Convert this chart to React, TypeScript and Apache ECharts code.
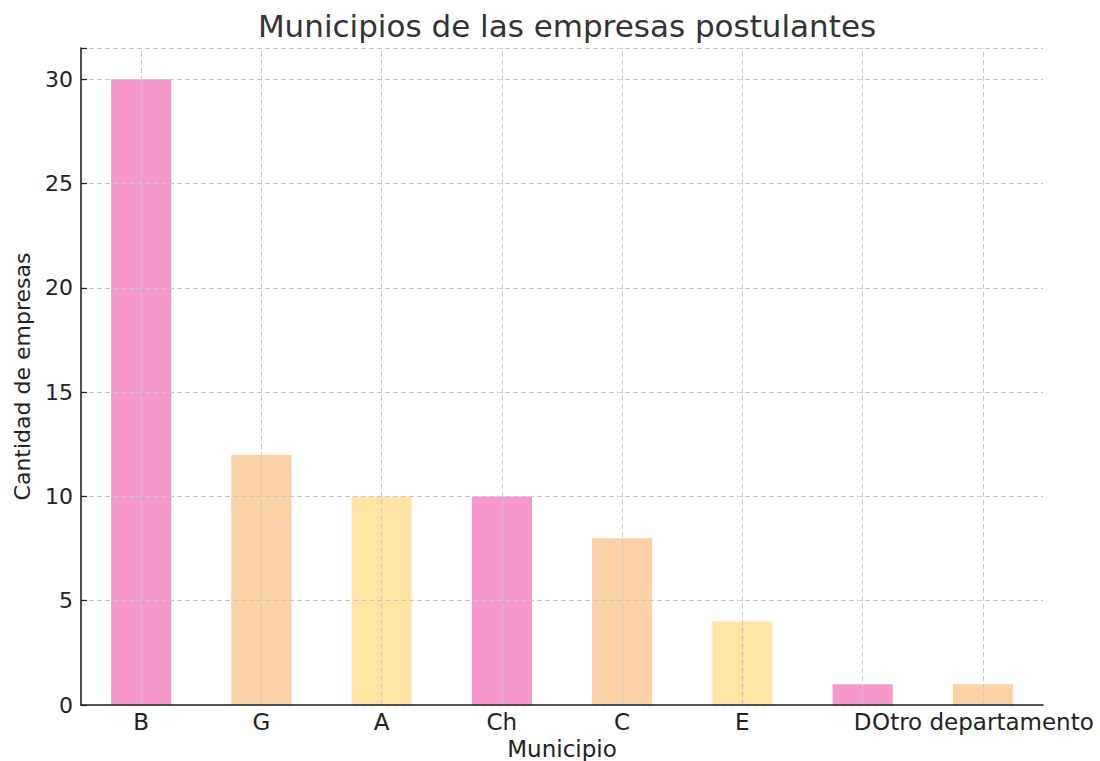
import React, { useEffect, useRef } from "react";
import * as echarts from "echarts";

const categories = ["B", "G", "A", "Ch", "C", "E", "D", "Otro departamento"];
const values = [30, 12, 10, 10, 8, 4, 1, 1];
const barColors = ["#F497CA", "#FAD2A6", "#FFE4A6", "#F497CA", "#FAD2A6", "#FFE4A6", "#F497CA", "#FAD2A6"];
const yTicks = [0, 5, 10, 15, 20, 25, 30];

export default function App() {
  const ref = useRef<HTMLDivElement>(null);
  useEffect(() => {
    const chart = echarts.init(ref.current!, null, { renderer: "svg" });
    const font = "DejaVu Sans";
    const gridLine = { color: "#c8c8c8", type: [5, 3] as number[], width: 1 };
    chart.setOption({
      animation: false,
      textStyle: { fontFamily: font },
      title: {
        text: "Municipios de las empresas postulantes",
        left: 562,
        textAlign: "center",
        top: 5,
        textStyle: { fontFamily: font, fontSize: 31, fontWeight: "normal", color: "#333333" },
      },
      grid: { left: 81, right: 57, top: 48, bottom: 56, containLabel: false, outerBoundsMode: "none" },
      xAxis: {
        type: "category",
        data: categories,
        z: 5,
        name: "Municipio",
        nameLocation: "middle",
        nameGap: 31,
        nameTextStyle: { fontFamily: font, fontSize: 23, color: "#222222" },
        axisLine: { lineStyle: { color: "#222222", width: 1.6 } },
        axisTick: { alignWithLabel: true, inside: true, length: 6, lineStyle: { color: "#222222", width: 1.3 } },
        axisLabel: { fontFamily: font, fontSize: 23, color: "#222222", margin: 5, interval: 0 },
        splitLine: { show: false },
      },
      yAxis: {
        type: "value",
        min: 0,
        max: 31.5,
        interval: 5,
        z: 5,
        name: "Cantidad de empresas",
        nameLocation: "middle",
        nameGap: 48,
        nameTextStyle: { fontFamily: font, fontSize: 22, color: "#222222" },
        axisLine: { show: true, lineStyle: { color: "#222222", width: 1.6 } },
        axisTick: { show: true, inside: true, length: 6, lineStyle: { color: "#222222", width: 1.3 } },
        axisLabel: {
          fontFamily: font,
          fontSize: 22,
          color: "#222222",
          margin: 8,
          formatter: (v: number) => (yTicks.includes(v) ? String(v) : ""),
        },
        splitLine: { show: true, lineStyle: gridLine },
      },
      series: [
        {
          type: "bar",
          barWidth: "50%",
          data: values.map((v, i) => ({ value: v, itemStyle: { color: barColors[i] } })),
          markLine: {
            silent: true,
            symbol: "none",
            label: { show: false },
            lineStyle: gridLine,
            z: 4,
            data: categories.map((c) => ({ xAxis: c })),
          },
        },
      ],
    });
    return () => chart.dispose();
  }, []);
  return <div ref={ref} style={{ width: 1100, height: 761, position: "absolute", left: 0, top: 0 }} />;
}
